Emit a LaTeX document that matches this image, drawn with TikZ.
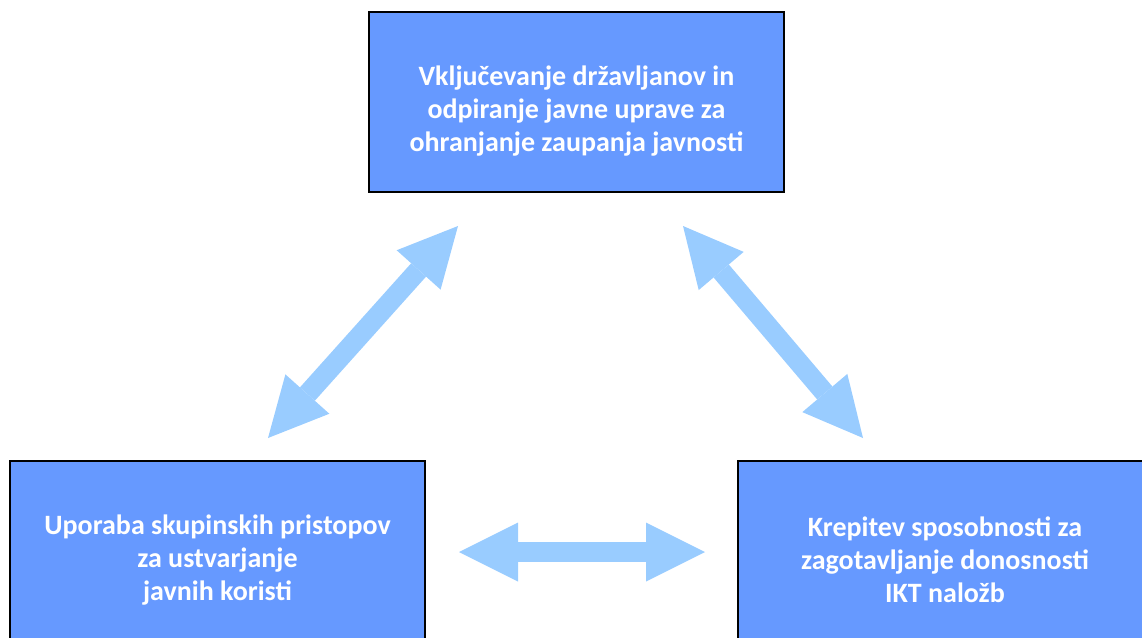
\documentclass[tikz,border=0pt]{standalone}
\usepackage{fontspec}
\setmainfont{Carlito}
\usetikzlibrary{arrows.meta,positioning}
\definecolor{boxblue}{HTML}{6699FF}
\definecolor{arrowblue}{HTML}{99CCFF}

\begin{document}
\begin{tikzpicture}[x = 1pt, y = -1pt,
  goal/.style = {fill = boxblue, draw = black, line width = 2pt, shape = rectangle, minimum width = 415pt, minimum height = 180pt, align = center, text = white, font = \fontsize{28}{33}\selectfont\bfseries},
  link/.style = {draw = arrowblue, line width = 20pt, {Triangle[length = 59pt, width = 59pt, line width = 0pt]}-{Triangle[length = 59pt, width = 59pt, line width = 0pt]}}]
\useasboundingbox (0,0) rectangle (1142,637);

\node[goal] (1) at (576.5,102) {\rule{0pt}{38pt}Vključevanje državljanov in\\odpiranje javne uprave za\\ohranjanje zaupanja javnosti};
\node[goal, minimum height = 198pt] (2) at (217.5,560) {Uporaba skupinskih pristopov\\za ustvarjanje\\javnih koristi};
\node[goal, minimum height = 198pt] (3) at (945,560) {Krepitev sposobnosti za\\zagotavljanje donosnosti\\IKT naložb};

% arrow ends
\coordinate (1a) at (458,226);
\coordinate (2a) at (268,438);
\coordinate (1b) at (683,226);
\coordinate (3a) at (863,438);
\coordinate (2b) at (459,552);
\coordinate (3b) at (705,552);

\draw[link] (2a) -- (1a);
\draw[link] (1b) -- (3a);
\draw[link] (2b) -- (3b);
\end{tikzpicture}
\end{document}
